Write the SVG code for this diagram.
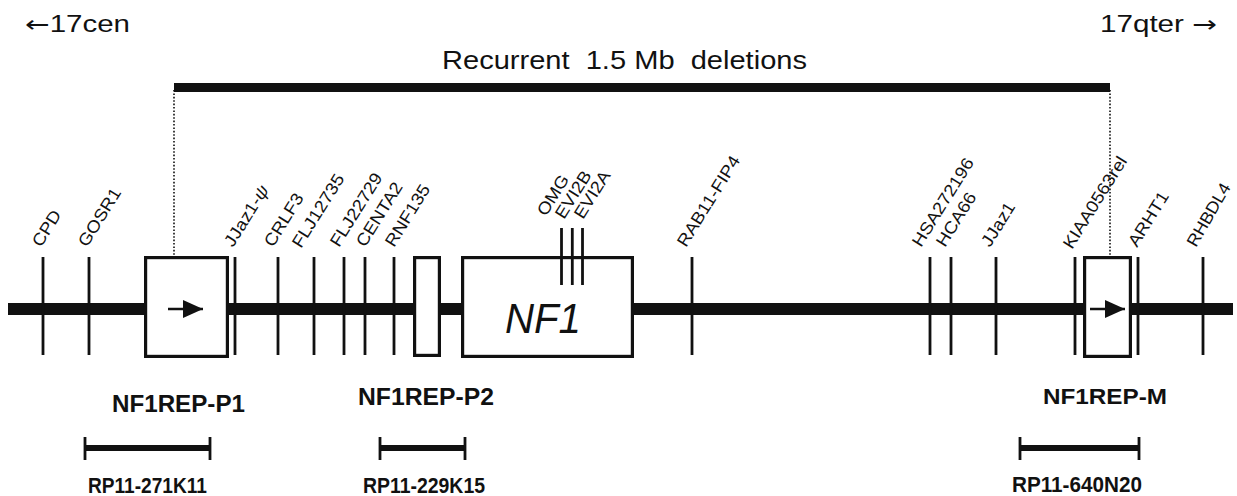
<svg xmlns="http://www.w3.org/2000/svg" width="1237" height="496" viewBox="0 0 1237 496">
<style>
text{font-family:"Liberation Sans",Arial,sans-serif;fill:#111}
.lbl{font-size:17px}
.ar{font-family:"DejaVu Sans",sans-serif}
.bold{font-weight:bold}
.tick{stroke:#111;stroke-width:2.8;fill:none}
.box{fill:#fff;stroke:#111;stroke-width:3.2}
.dot{stroke:#111;stroke-width:1.6;stroke-dasharray:1.6 1.8;fill:none}
.bar{stroke:#111;stroke-width:6;fill:none}
.end{stroke:#111;stroke-width:2.8;fill:none}
.arw{stroke:#111;stroke-width:2.6;fill:none}
</style>
<defs>
<marker id="ah" viewBox="0 0 20 18" refX="20" refY="9" markerWidth="20" markerHeight="18" markerUnits="userSpaceOnUse" orient="auto">
<path d="M0,0 L20,9 L0,18 Z" fill="#111"/>
</marker>
</defs>
<rect width="1237" height="496" fill="#fff"/>

<g id="ends">
<text x="25" y="32" font-size="23" textLength="105" lengthAdjust="spacingAndGlyphs"><tspan class="ar">←</tspan>17cen</text>
<text x="1100" y="32" font-size="23" textLength="117" lengthAdjust="spacingAndGlyphs">17qter <tspan class="ar">→</tspan></text>
</g>

<g id="deletion">
<text x="442" y="69" font-size="26" xml:space="preserve" textLength="365" lengthAdjust="spacingAndGlyphs">Recurrent  1.5 Mb  deletions</text>
<rect x="174" y="83" width="936" height="9" fill="#111"/>
</g>

<g id="connectors">
<line class="dot" x1="174" y1="90" x2="174" y2="257"/>
<line class="dot" x1="1110" y1="90" x2="1110" y2="257"/>
</g>

<g id="chromosome">
<rect x="8" y="303" width="1225" height="12" fill="#111"/>
</g>

<g id="gene-CPD"><line class="tick" x1="43" y1="257" x2="43" y2="355"/><text class="lbl" transform="translate(41,248) rotate(-58) scale(1.1,1)">CPD</text></g>
<g id="gene-GOSR1"><line class="tick" x1="89" y1="257" x2="89" y2="355"/><text class="lbl" transform="translate(87,248) rotate(-58) scale(1.1,1)">GOSR1</text></g>
<g id="gene-JJaz1-psi"><line class="tick" x1="235" y1="257" x2="235" y2="355"/><text class="lbl" transform="translate(233,248) rotate(-58) scale(1.1,1)">JJaz1-<tspan font-style="italic">ψ</tspan></text></g>
<g id="gene-CRLF3"><line class="tick" x1="278" y1="257" x2="278" y2="355"/><text class="lbl" transform="translate(273,248) rotate(-58) scale(1.1,1)">CRLF3</text></g>
<g id="gene-FLJ12735"><line class="tick" x1="314" y1="257" x2="314" y2="355"/><text class="lbl" transform="translate(301,249) rotate(-58) scale(1.1,1)">FLJ12735</text></g>
<g id="gene-FLJ22729"><line class="tick" x1="344" y1="257" x2="344" y2="355"/><text class="lbl" transform="translate(339,248) rotate(-58) scale(1.1,1)">FLJ22729</text></g>
<g id="gene-CENTA2"><line class="tick" x1="365" y1="257" x2="365" y2="355"/><text class="lbl" transform="translate(365,248) rotate(-58) scale(1.1,1)">CENTA2</text></g>
<g id="gene-RNF135"><line class="tick" x1="394" y1="257" x2="394" y2="355"/><text class="lbl" transform="translate(394,248) rotate(-58) scale(1.1,1)">RNF135</text></g>
<g id="gene-RAB11-FIP4"><line class="tick" x1="692" y1="257" x2="692" y2="355"/><text class="lbl" transform="translate(686,248) rotate(-58) scale(1.1,1)">RAB11-FIP4</text></g>
<g id="gene-HSA272196"><line class="tick" x1="930" y1="257" x2="930" y2="355"/><text class="lbl" transform="translate(921,248) rotate(-58) scale(1.1,1)">HSA272196</text></g>
<g id="gene-HCA66"><line class="tick" x1="951" y1="257" x2="951" y2="355"/><text class="lbl" transform="translate(945,248) rotate(-58) scale(1.1,1)">HCA66</text></g>
<g id="gene-JJaz1"><line class="tick" x1="996" y1="257" x2="996" y2="355"/><text class="lbl" transform="translate(990,248) rotate(-58) scale(1.1,1)">JJaz1</text></g>
<g id="gene-KIAA0563rel"><line class="tick" x1="1075" y1="257" x2="1075" y2="355"/><text class="lbl" transform="translate(1072,250) rotate(-58) scale(1.1,1)">KIAA0563rel</text></g>
<g id="gene-ARHT1"><line class="tick" x1="1138" y1="257" x2="1138" y2="355"/><text class="lbl" transform="translate(1137,248) rotate(-58) scale(1.1,1)">ARHT1</text></g>
<g id="gene-RHBDL4"><line class="tick" x1="1203" y1="257" x2="1203" y2="355"/><text class="lbl" transform="translate(1196,248) rotate(-60) scale(1.05,1)">RHBDL4</text></g>

<g id="NF1REP-P1-box">
<rect class="box" x="145.6" y="257.6" width="81.8" height="98.8"/>
<line class="arw" x1="168" y1="309" x2="203" y2="309" marker-end="url(#ah)"/>
</g>
<g id="NF1REP-P2-box">
<rect class="box" x="414.6" y="257.6" width="24.8" height="97.8"/>
</g>
<g id="NF1">
<rect class="box" x="462.6" y="257.6" width="169.8" height="98.8"/>
<text x="505" y="333" font-size="42" font-style="italic" textLength="76" lengthAdjust="spacingAndGlyphs">NF1</text>
</g>
<g id="NF1REP-M-box">
<rect class="box" x="1084.6" y="257.6" width="45.8" height="98.8"/>
<line class="arw" x1="1090" y1="309" x2="1125" y2="309" marker-end="url(#ah)"/>
</g>

<g id="gene-OMG"><line class="tick" x1="561.5" y1="228" x2="561.5" y2="285"/><text class="lbl" transform="translate(546,217) rotate(-58) scale(1.1,1)">OMG</text></g>
<g id="gene-EVI2B"><line class="tick" x1="572.3" y1="228" x2="572.3" y2="285"/><text class="lbl" transform="translate(564,220) rotate(-58) scale(1.1,1)">EVI2B</text></g>
<g id="gene-EVI2A"><line class="tick" x1="582.5" y1="228" x2="582.5" y2="285"/><text class="lbl" transform="translate(583,220) rotate(-58) scale(1.1,1)">EVI2A</text></g>

<g id="NF1REP-P1">
<text class="bold" x="178.5" y="412" font-size="23" text-anchor="middle" textLength="133" lengthAdjust="spacingAndGlyphs">NF1REP-P1</text>
<line class="bar" x1="85" y1="448" x2="210" y2="448"/>
<line class="end" x1="85" y1="437" x2="85" y2="460"/>
<line class="end" x1="210" y1="437" x2="210" y2="460"/>
<text class="bold" x="147.5" y="493" font-size="22" text-anchor="middle" textLength="119" lengthAdjust="spacingAndGlyphs">RP11-271K11</text>
</g>
<g id="NF1REP-P2">
<text class="bold" x="426" y="405" font-size="23" text-anchor="middle" textLength="136" lengthAdjust="spacingAndGlyphs">NF1REP-P2</text>
<line class="bar" x1="380" y1="448" x2="465" y2="448"/>
<line class="end" x1="380" y1="437" x2="380" y2="460"/>
<line class="end" x1="465" y1="437" x2="465" y2="460"/>
<text class="bold" x="424" y="493" font-size="22" text-anchor="middle" textLength="122" lengthAdjust="spacingAndGlyphs">RP11-229K15</text>
</g>
<g id="NF1REP-M">
<text class="bold" x="1105" y="404" font-size="22" text-anchor="middle" textLength="124" lengthAdjust="spacingAndGlyphs">NF1REP-M</text>
<line class="bar" x1="1020" y1="448" x2="1139" y2="448"/>
<line class="end" x1="1020" y1="437" x2="1020" y2="460"/>
<line class="end" x1="1139" y1="437" x2="1139" y2="460"/>
<text class="bold" x="1077" y="492" font-size="22" text-anchor="middle" textLength="130" lengthAdjust="spacingAndGlyphs">RP11-640N20</text>
</g>
</svg>
